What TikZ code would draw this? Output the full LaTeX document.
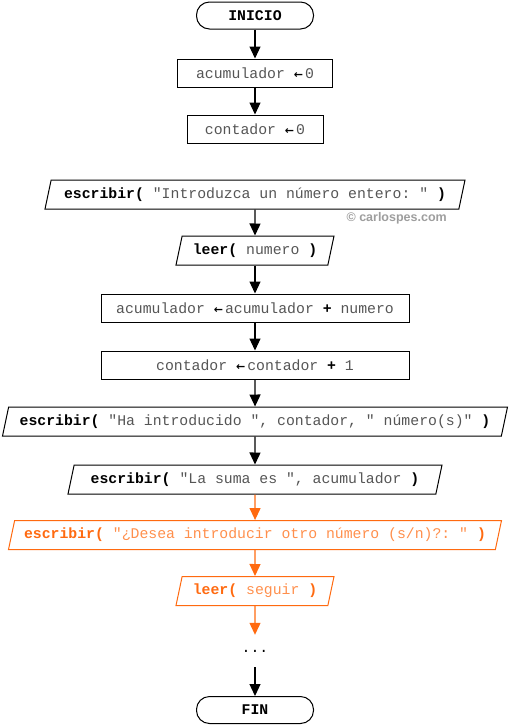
\documentclass[tikz,border=0pt]{standalone}
\usepackage{fontspec}
\setmonofont{Liberation Mono}
\newfontfamily\marcafont{Liberation Sans}
\newfontfamily\flechafont{DejaVu Sans}
\usepackage{xcolor}
\usetikzlibrary{shapes.geometric, arrows.meta, positioning}

\definecolor{naranja}{HTML}{FF6A10}
\definecolor{gris}{HTML}{555555}

\newcommand{\kw}[1]{\textbf{#1}}
\newcommand{\tx}[1]{{\color{gris}#1}}
\newcommand{\tn}[1]{{\color{naranja!75}#1}}
\newcommand{\asig}{{\flechafont\bfseries\fontsize{11}{11}\selectfont ←}\hspace{2pt}}

\tikzset{
	codigo/.style={font=\ttfamily\fontsize{14.8}{17}\selectfont},
	terminal/.style={codigo, draw, line width=1pt, rounded corners=13pt, minimum width=117pt, minimum height=27pt, font=\ttfamily\bfseries\fontsize{14.8}{17}\selectfont},
	proceso/.style={codigo, draw, line width=1pt, minimum height=28pt, inner sep=0pt},
	entrada/.style={codigo, draw, trapezium, trapezium left angle=66, trapezium right angle=114, trapezium stretches body, minimum height=29pt, inner sep=0pt, line width=1pt},
	flecha/.style={-{Triangle[length=12pt,width=11pt]}, line width=1.2pt},
}

\begin{document}
\begin{tikzpicture}[x=1pt, y=-1pt]
	
	\useasboundingbox (0,0) rectangle (509,726);
	
	% Inicio y valores iniciales
	\node[terminal] (inicio) at (255,15.5) {INICIO};
	\node[proceso, minimum width=155pt] (acum0) at (255,73) {\tx{acumulador} \asig\tx{0}};
	\node[proceso, minimum width=136pt] (cont0) at (255,129) {\tx{contador} \asig\tx{0}};
	
	% Bucle
	\node[entrada, minimum width=420pt] (pedir) at (255,194.5) {\kw{escribir(} \tx{"Introduzca un número entero: "} \kw{)}};
	\node[font=\marcafont\bfseries\fontsize{12.5}{14}\selectfont, text=black!38, anchor=east, inner sep=0pt] (marca) at (447,218) {© carlospes.com};
	\node[entrada, minimum width=158pt] (leernum) at (255,250.5) {\kw{leer(} \tx{numero} \kw{)}};
	\node[proceso, minimum width=308pt] (suma) at (255,308) {\tx{acumulador} \asig\tx{acumulador} \kw{+} \tx{numero}};
	\node[proceso, minimum width=308pt] (incr) at (255,365) {\tx{contador} \asig\tx{contador} \kw{+} \tx{1}};
	\node[entrada, minimum width=505pt] (mostrarn) at (255,421.5) {\kw{escribir(} \tx{"Ha introducido ", contador, " número(s)"} \kw{)}};
	\node[entrada, minimum width=374pt] (mostrars) at (255,479.5) {\kw{escribir(} \tx{"La suma es ", acumulador} \kw{)}};
	
	% Pregunta (en naranja)
	\node[entrada, minimum width=493pt, draw=naranja, text=naranja] (preg) at (255,535) {\kw{escribir(} \tn{"¿Desea introducir otro número (s/n)?: "} \kw{)}};
	\node[entrada, minimum width=158pt, draw=naranja, text=naranja] (leerseg) at (255,591) {\kw{leer(} \tn{seguir} \kw{)}};
	
	% Fin
	\node[codigo, minimum height=32pt, inner sep=0pt] (puntos) at (255,651) {...};
	\node[terminal] (fin) at (255,710) {FIN};
	
	% Flechas
	\draw[flecha] (inicio) -- (acum0);
	\draw[flecha] (acum0) -- (cont0);
	\draw[flecha] (pedir) -- (leernum);
	\draw[flecha] (leernum) -- (suma);
	\draw[flecha] (suma) -- (incr);
	\draw[flecha] (incr) -- (mostrarn);
	\draw[flecha] (mostrarn) -- (mostrars);
	\draw[flecha, naranja] (mostrars) -- (preg);
	\draw[flecha, naranja] (preg) -- (leerseg);
	\draw[flecha, naranja] (leerseg) -- (puntos);
	\draw[flecha] (puntos) -- (fin);
	
\end{tikzpicture}
\end{document}
